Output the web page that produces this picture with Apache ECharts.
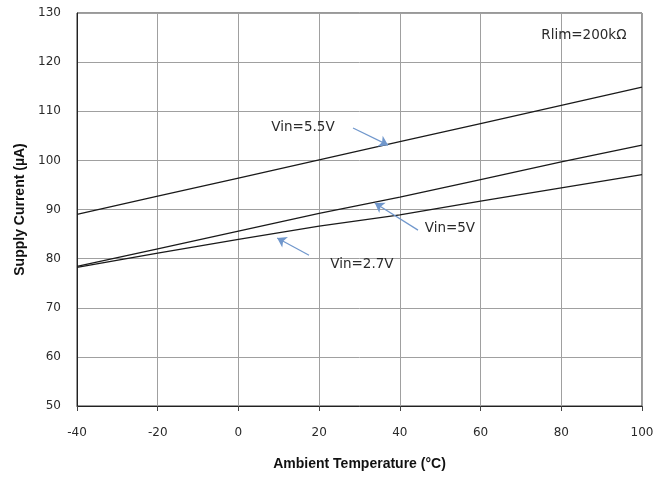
<!DOCTYPE html>
<html>
<head>
<meta charset="utf-8">
<script src="https://cdn.jsdelivr.net/npm/echarts@6/dist/echarts.min.js"></script>
<style>html,body{margin:0;padding:0;background:#fff}#c{width:670px;height:478px}</style>
</head>
<body>
<div id="c"></div>
<script>
var temps = [-40, -20, 0, 20, 40, 60, 80, 100];
var vin55 = [89.0, 92.7, 96.4, 100.1, 103.8, 107.5, 111.2, 114.9];
var vin50 = [78.4, 82.0, 85.6, 89.2, 92.5, 96.1, 99.7, 103.1];
var vin27 = [78.2, 81.1, 83.9, 86.6, 88.9, 91.7, 94.4, 97.1];

var arrows = [
  {from: [28.4, 106.6], to: [37.1, 103.1]},
  {from: [44.5, 85.8], to: [33.8, 91.3]},
  {from: [17.5, 80.7], to: [9.6, 84.2]}
];
var labels = [
  {text: 'Vin=5.5V', at: [16.0, 106.6]},
  {text: 'Vin=5V', at: [52.4, 86.2]},
  {text: 'Vin=2.7V', at: [30.6, 78.9]},
  {text: 'Rlim=200k\u03A9', at: [85.6, 125.5]}
];

function pairs(ys) { return temps.map(function (t, i) { return [t, ys[i]]; }); }
var lineStyle = {color: '#1a1a1a', width: 1.3};

var chart = echarts.init(document.getElementById('c'));
chart.setOption({
  animation: false,
  grid: {left: 77, right: 28, top: 13, bottom: 72, show: true, borderColor: '#333', borderWidth: 1},
  xAxis: {
    type: 'value', min: -40, max: 100, interval: 20,
    name: 'Ambient Temperature (\u00B0C)', nameLocation: 'middle', nameGap: 51,
    nameTextStyle: {fontFamily: 'Liberation Sans', fontWeight: 'bold', fontSize: 14, color: '#111'},
    axisLine: {onZero: false, lineStyle: {color: '#222', width: 1}},
    axisTick: {show: true, length: 5, lineStyle: {color: '#444'}},
    axisLabel: {margin: 21, fontFamily: 'DejaVu Sans', fontSize: 12, color: '#2a2a2a'},
    splitLine: {lineStyle: {color: '#a0a0a0', width: 1}}
  },
  yAxis: {
    type: 'value', min: 50, max: 130, interval: 10,
    name: 'Supply Current (\u00B5A)', nameLocation: 'middle', nameGap: 49,
    nameTextStyle: {fontFamily: 'Liberation Sans', fontWeight: 'bold', fontSize: 14, color: '#111'},
    axisLine: {show: true, onZero: false, lineStyle: {color: '#222', width: 1}},
    axisTick: {show: false},
    axisLabel: {margin: 16, fontFamily: 'DejaVu Sans', fontSize: 12, color: '#2a2a2a'},
    splitLine: {lineStyle: {color: '#a0a0a0', width: 1}}
  },
  series: [
    {type: 'line', data: pairs(vin55), symbol: 'none', lineStyle: lineStyle},
    {type: 'line', data: pairs(vin50), symbol: 'none', lineStyle: lineStyle},
    {type: 'line', data: pairs(vin27), symbol: 'none', lineStyle: lineStyle,
      markLine: {
        silent: true, symbol: ['none', 'arrow'], symbolSize: 9,
        lineStyle: {color: '#7097cc', width: 1.2, type: 'solid'},
        label: {show: false},
        data: arrows.map(function (a) { return [{coord: a.from}, {coord: a.to}]; })
      },
      markPoint: {
        silent: true, symbol: 'circle', symbolSize: 0,
        label: {show: true, position: 'inside', fontFamily: 'DejaVu Sans', fontSize: 13.5, color: '#2a2a2a',
          formatter: function (p) { return p.name; }},
        data: labels.map(function (l) { return {name: l.text, coord: l.at}; })
      }
    }
  ]
});
</script>
</body>
</html>
